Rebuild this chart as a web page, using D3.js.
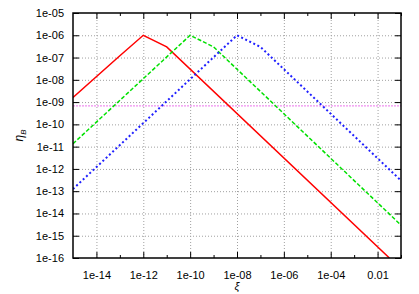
<!DOCTYPE html>
<html>
<head>
<meta charset="utf-8">
<script src="https://cdn.jsdelivr.net/npm/d3@7"></script>
<style>
  body { margin: 0; background: #fff; }
  text { font-family: "Liberation Sans", Arial, sans-serif; }
</style>
</head>
<body>
<div id="chart"></div>
<script>
// series as [xi, eta_B] pairs
const redSeries = [[1e-15, 1.6e-9], [1e-13, 1.2e-7], [1e-12, 1e-6], [1e-11, 3e-7], [3.2e-2, 1e-16]];
const greenSeries = [[1e-15, 1.35e-11], [1e-10, 1e-6], [1e-9, 3e-7], [1e-1, 3e-15]];
const blueSeries = [[1e-15, 1.25e-13], [1e-8, 1e-6], [1e-7, 3e-7], [1e-1, 3e-13]];
const observed = 6.8e-10;

const xTicks = [1e-14, 1e-12, 1e-10, 1e-8, 1e-6, 1e-4, 1e-2];
const xTickLabels = ["1e-14", "1e-12", "1e-10", "1e-08", "1e-06", "1e-04", "0.01"];
const xMinorTicks = [1e-13, 1e-11, 1e-9, 1e-7, 1e-5, 1e-3, 1e-1];
const yTicks = [1e-16, 1e-15, 1e-14, 1e-13, 1e-12, 1e-11, 1e-10, 1e-9, 1e-8, 1e-7, 1e-6, 1e-5];
const yTickLabels = ["1e-16", "1e-15", "1e-14", "1e-13", "1e-12", "1e-11", "1e-10", "1e-09", "1e-08", "1e-07", "1e-06", "1e-05"];

const W = 419, H = 294;
const margin = { top: 13, right: 18, bottom: 36, left: 73 };
const width = W - margin.left - margin.right;
const height = H - margin.top - margin.bottom;

const svg = d3.select("#chart").append("svg")
  .attr("width", W).attr("height", H);

const g = svg.append("g")
  .attr("transform", `translate(${margin.left},${margin.top})`);

const x = d3.scaleLog().domain([1e-15, 1e-1]).range([0, width]);
const y = d3.scaleLog().domain([1e-16, 1e-5]).range([height, 0]);

// grid
g.append("g")
  .attr("class", "grid")
  .attr("transform", `translate(0,${height})`)
  .call(d3.axisBottom(x).tickValues(xTicks).tickSize(-height).tickFormat(""));
g.append("g")
  .attr("class", "grid")
  .call(d3.axisLeft(y).tickValues(yTicks.slice(1, -1)).tickSize(-width).tickFormat(""));
g.selectAll(".grid .domain").remove();
g.selectAll(".grid line")
  .attr("stroke", "#a0a0a0")
  .attr("stroke-width", 1)
  .attr("stroke-dasharray", "1,2");

g.append("clipPath").attr("id", "clip")
  .append("rect").attr("width", width).attr("height", height);

const line = d3.line()
  .x(d => x(d[0]))
  .y(d => y(d[1]));

const plot = g.append("g").attr("clip-path", "url(#clip)");

plot.append("path")
  .datum([[1e-15, observed], [1e-1, observed]])
  .attr("fill", "none")
  .attr("stroke", "#f090f0")
  .attr("stroke-width", 1.2)
  .attr("stroke-dasharray", "2,1")
  .attr("d", line);

plot.append("path")
  .datum(redSeries)
  .attr("fill", "none")
  .attr("stroke", "#ff0000")
  .attr("stroke-width", 1.5)
  .attr("d", line);

plot.append("path")
  .datum(greenSeries)
  .attr("fill", "none")
  .attr("stroke", "#00e000")
  .attr("stroke-width", 1.5)
  .attr("stroke-dasharray", "4,2")
  .attr("d", line);

plot.append("path")
  .datum(blueSeries)
  .attr("fill", "none")
  .attr("stroke", "#2020ff")
  .attr("stroke-width", 2)
  .attr("stroke-dasharray", "2,2.5")
  .attr("d", line);

// axes with gnuplot-style mirrored ticks
const axisStyle = sel => {
  sel.select(".domain").remove();
  sel.selectAll("line").attr("stroke", "#000");
  sel.selectAll("text").attr("fill", "#000").style("font-size", "11px");
};

g.append("g")
  .attr("transform", `translate(0,${height})`)
  .call(d3.axisBottom(x).tickValues(xTicks).tickSizeInner(-6).tickSizeOuter(0).tickPadding(13)
    .tickFormat((d, i) => xTickLabels[i]))
  .call(axisStyle);
g.append("g")
  .attr("transform", `translate(0,${height})`)
  .call(d3.axisBottom(x).tickValues(xMinorTicks).tickSizeInner(-3).tickSizeOuter(0).tickFormat(""))
  .call(axisStyle);
g.append("g")
  .call(d3.axisTop(x).tickValues(xTicks).tickSizeInner(-6).tickSizeOuter(0).tickFormat(""))
  .call(axisStyle);
g.append("g")
  .call(d3.axisTop(x).tickValues(xMinorTicks).tickSizeInner(-3).tickSizeOuter(0).tickFormat(""))
  .call(axisStyle);

g.append("g")
  .call(d3.axisLeft(y).tickValues(yTicks).tickSizeInner(-6).tickSizeOuter(0).tickPadding(9)
    .tickFormat((d, i) => yTickLabels[i]))
  .call(axisStyle);
g.append("g")
  .attr("transform", `translate(${width},0)`)
  .call(d3.axisRight(y).tickValues(yTicks).tickSizeInner(-6).tickSizeOuter(0).tickFormat(""))
  .call(axisStyle);

g.append("rect")
  .attr("width", width).attr("height", height)
  .attr("fill", "none")
  .attr("stroke", "#000")
  .attr("stroke-width", 1.5);

// axis labels
g.append("text")
  .attr("x", width / 2)
  .attr("y", height + 32)
  .attr("text-anchor", "middle")
  .style("font-size", "11px")
  .style("font-style", "italic")
  .text("ξ");

const yl = g.append("text")
  .attr("transform", `translate(${-margin.left + 23},${height / 2}) rotate(-90)`)
  .attr("text-anchor", "middle")
  .style("font-size", "12px");
yl.append("tspan").style("font-style", "italic").text("η");
yl.append("tspan").attr("dy", 3).style("font-size", "8px").style("font-style", "italic").text("B");
</script>
</body>
</html>
